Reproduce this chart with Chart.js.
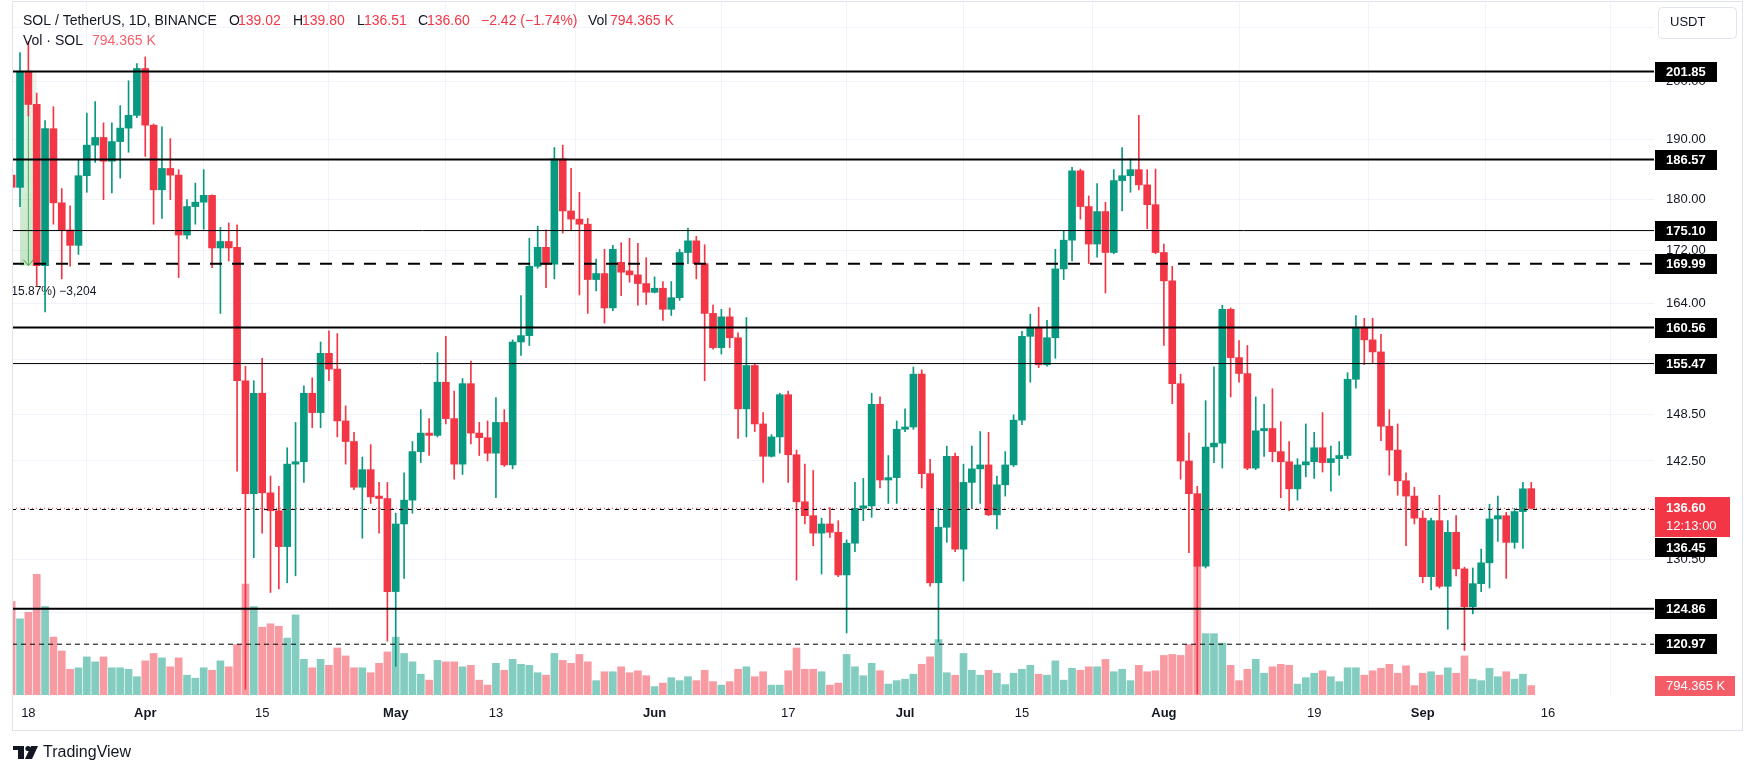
<!DOCTYPE html>
<html>
<head>
<meta charset="utf-8">
<script src="https://cdn.jsdelivr.net/npm/chart.js@4.4.1/dist/chart.umd.min.js"></script>
<style>
html, body { margin: 0; padding: 0; background: #fff; }
canvas { display: block; }
</style>
</head>
<body>
<canvas id="c" width="1754" height="774"></canvas>
<script>
// SOL/USDT daily, 2024-03-16 .. 2024-09-14 (index 0 = Mar 16)
const opens = [184.0, 182.0, 201.9, 196.0, 169.7, 191.8, 179.5, 175.2, 172.8, 183.9,
  189.0, 190.3, 186.3, 189.6, 191.9, 194.1, 202.4, 192.4, 181.6, 185.1,
  184.0, 174.4, 178.9, 179.6, 180.7, 172.4, 173.4, 172.5, 153.1, 138.4,
  151.4, 138.5, 136.3, 132.0, 142.1, 142.4, 151.4, 148.8, 156.9, 154.7,
  147.7, 145.0, 139.2, 141.4, 138.1, 137.8, 126.8, 134.7, 137.6, 143.7,
  146.1, 145.8, 152.9, 148.0, 142.1, 152.7, 146.1, 145.5, 143.5, 147.5,
  142.0, 158.5, 159.4, 169.6, 172.5, 169.9, 186.7, 178.2, 176.9, 176.1,
  167.6, 168.5, 163.4, 170.2, 168.9, 168.3, 167.0, 165.7, 166.3, 163.2,
  164.9, 171.7, 173.5, 170.0, 162.6, 157.7, 162.1, 159.1, 149.3, 155.2,
  147.3, 143.1, 145.6, 151.2, 143.3, 137.4, 135.7, 133.6, 134.7, 133.7,
  128.7, 132.4, 136.6, 136.9, 149.9, 140.1, 140.4, 146.6, 146.9, 154.0,
  140.9, 127.8, 134.3, 143.1, 131.7, 139.8, 141.5, 142.0, 135.8, 139.5,
  142.0, 147.8, 159.3, 160.5, 155.3, 159.1, 169.2, 173.6, 184.7, 178.9,
  173.0, 178.1, 171.7, 183.1, 183.9, 184.9, 182.4, 179.2, 171.7, 167.4,
  152.7, 142.5, 138.4, 129.7, 144.3, 144.8, 163.2, 156.3, 154.1, 141.6,
  146.4, 146.7, 143.7, 142.4, 139.0, 142.0, 142.4, 144.2, 142.3, 142.8,
  143.2, 153.3, 160.6, 158.8, 157.1, 147.0, 143.9, 140.0, 138.1, 135.4,
  128.5, 135.1, 127.4, 133.7, 129.4, 125.1, 127.7, 130.1, 135.3, 135.7,
  132.5, 136.2, 139.02];
const highs = [185.0, 205.3, 207.4, 198.0, 193.2, 195.6, 181.8, 179.0, 186.5, 194.5,
  196.5, 192.8, 192.8, 195.8, 200.2, 203.3, 204.5, 192.6, 192.1, 190.1,
  184.9, 180.0, 182.7, 184.9, 180.8, 175.6, 176.3, 176.0, 155.1, 153.1,
  156.2, 140.6, 139.3, 144.2, 147.5, 152.4, 153.5, 158.5, 160.1, 159.7,
  149.7, 146.2, 143.0, 144.6, 139.8, 139.8, 136.0, 141.0, 145.0, 149.2,
  148.0, 157.0, 159.3, 151.7, 153.4, 155.8, 147.5, 147.7, 150.8, 149.2,
  158.8, 165.2, 173.9, 175.8, 175.2, 188.6, 189.0, 185.1, 181.2, 177.0,
  170.7, 172.2, 172.8, 173.2, 173.9, 173.1, 170.9, 168.0, 167.3, 167.3,
  172.2, 175.5, 174.2, 172.9, 163.8, 163.2, 163.4, 159.8, 162.0, 155.4,
  148.8, 145.9, 151.4, 151.7, 143.9, 142.1, 141.3, 135.4, 136.7, 135.1,
  132.8, 139.8, 140.3, 151.4, 150.9, 143.2, 147.7, 149.3, 155.0, 154.6,
  142.7, 136.6, 144.4, 143.5, 142.1, 144.4, 146.3, 146.2, 140.6, 143.7,
  148.5, 160.0, 162.5, 163.5, 161.6, 172.2, 175.1, 185.3, 185.0, 180.6,
  182.6, 179.6, 184.9, 188.6, 186.7, 194.1, 184.9, 185.0, 173.0, 169.6,
  154.0, 146.1, 139.3, 150.4, 155.0, 163.8, 163.4, 158.7, 158.0, 150.9,
  149.9, 152.0, 147.6, 145.0, 142.8, 147.3, 146.2, 148.8, 144.4, 145.0,
  154.2, 162.3, 161.9, 161.9, 159.6, 149.2, 147.3, 141.0, 139.2, 136.3,
  135.4, 138.2, 135.1, 135.7, 129.6, 129.5, 131.7, 137.1, 138.1, 136.1,
  136.6, 139.8, 139.80];
const lows = [181.0, 178.9, 194.0, 166.6, 162.8, 176.1, 167.7, 169.6, 171.4, 181.2,
  186.1, 180.0, 181.1, 183.5, 187.8, 193.7, 187.1, 176.1, 177.0, 180.0,
  167.9, 173.8, 176.1, 175.3, 169.4, 162.6, 170.4, 141.2, 116.2, 130.7,
  133.6, 126.7, 127.1, 127.8, 128.6, 139.8, 146.8, 146.8, 153.1, 145.6,
  142.1, 138.9, 133.0, 137.2, 133.6, 121.3, 118.6, 128.3, 136.0, 142.3,
  143.2, 145.6, 147.3, 140.2, 140.8, 144.7, 143.2, 142.5, 137.9, 141.8,
  141.5, 156.6, 158.0, 169.3, 166.4, 167.7, 174.7, 175.2, 165.3, 162.6,
  165.9, 161.2, 163.0, 165.2, 167.2, 163.8, 163.9, 165.6, 161.6, 162.3,
  164.5, 170.0, 167.7, 153.1, 157.5, 156.8, 157.7, 145.4, 145.6, 146.3,
  139.8, 143.0, 143.5, 139.8, 128.1, 134.7, 132.1, 128.8, 133.1, 128.5,
  122.2, 131.4, 135.1, 135.5, 139.1, 137.2, 137.2, 146.3, 146.6, 139.1,
  127.4, 121.2, 132.5, 131.4, 128.0, 136.6, 137.2, 135.7, 134.1, 138.1,
  141.8, 147.2, 152.9, 154.9, 155.1, 156.2, 167.6, 170.4, 176.9, 170.0,
  171.0, 165.6, 171.5, 178.2, 181.2, 181.6, 175.4, 171.5, 158.0, 150.0,
  140.2, 131.3, 115.7, 129.5, 142.3, 141.6, 150.9, 152.9, 141.4, 141.4,
  143.1, 142.4, 137.9, 136.3, 137.6, 140.5, 140.3, 141.1, 138.7, 140.7,
  142.8, 152.1, 155.3, 155.5, 145.1, 140.7, 138.2, 132.1, 134.7, 127.8,
  127.0, 127.2, 122.6, 128.6, 120.3, 124.3, 126.8, 127.2, 132.6, 128.3,
  131.8, 131.8, 136.51];
const closes = [182.0, 201.9, 196.0, 169.7, 191.8, 179.5, 175.2, 172.8, 183.9, 189.0,
  190.3, 186.3, 189.6, 191.9, 194.1, 202.4, 192.4, 181.6, 185.1, 184.0,
  174.4, 178.9, 179.6, 180.7, 172.4, 173.4, 172.4, 153.1, 138.4, 151.4,
  138.5, 136.3, 132.0, 142.1, 142.4, 151.4, 148.8, 156.9, 154.7, 147.7,
  145.0, 139.2, 141.4, 138.0, 137.8, 126.8, 134.7, 137.6, 143.7, 146.1,
  145.8, 152.9, 148.0, 142.1, 152.7, 146.1, 145.5, 143.5, 147.5, 142.0,
  158.5, 159.4, 169.6, 172.5, 169.9, 186.7, 178.2, 176.9, 176.1, 167.6,
  168.5, 163.4, 172.2, 168.7, 168.3, 167.0, 165.7, 166.3, 163.2, 164.9,
  171.7, 173.5, 170.0, 162.6, 157.7, 162.1, 159.1, 149.3, 155.2, 147.3,
  143.1, 145.6, 151.2, 143.3, 137.4, 135.7, 133.6, 134.7, 133.7, 128.7,
  132.4, 136.6, 136.9, 149.9, 140.1, 140.4, 146.6, 146.9, 154.0, 140.9,
  127.8, 134.3, 143.1, 131.7, 139.8, 141.5, 142.0, 135.8, 139.5, 142.0,
  147.8, 159.3, 160.5, 155.3, 159.1, 169.2, 173.6, 184.7, 178.9, 173.0,
  178.1, 171.7, 183.1, 183.9, 184.9, 182.4, 179.2, 171.7, 167.4, 152.7,
  142.5, 138.4, 129.7, 144.3, 144.8, 163.2, 156.3, 154.1, 141.6, 146.4,
  146.7, 143.7, 142.4, 139.0, 142.0, 142.4, 144.2, 142.3, 142.8, 143.2,
  153.3, 160.6, 158.8, 157.1, 147.0, 143.9, 140.0, 138.1, 135.4, 128.5,
  135.1, 127.4, 133.7, 129.4, 125.1, 127.7, 130.1, 135.3, 135.7, 132.5,
  136.2, 139.0, 136.60];
// volume in thousands of SOL
const volumes = [7900, 6437, 6981, 10199, 7482, 4891, 3720, 2174, 2299, 3219,
  2801, 3219, 2299, 2299, 2174, 1547, 2884, 3511, 3135, 2383,
  3135, 1672, 1421, 2299, 2090, 2884, 2383, 4264, 9363, 7482,
  5727, 6019, 5810, 4807, 6772, 3010, 2299, 3010, 2508, 3971,
  3302, 2299, 2299, 1881, 2675, 3637, 4891, 3511, 2801, 1756,
  1254, 2926, 2801, 2801, 2383, 2508, 1254, 836, 2675, 2090,
  3010, 2592, 2508, 1881, 1672, 3511, 2926, 2675, 3428, 2801,
  1212, 1965, 1965, 2383, 1881, 2048, 1630, 711, 1003, 1463,
  1212, 1547, 1212, 2090, 1129, 836, 1129, 2174, 2383, 1547,
  1965, 836, 836, 2048, 3971, 2174, 2174, 1965, 836, 1003,
  3428, 2383, 1630, 2675, 2048, 920, 1212, 1338, 1756, 2592,
  3219, 4682, 1881, 1672, 3511, 2090, 1672, 2090, 1839, 878,
  1839, 2174, 2508, 1756, 1672, 2884, 1254, 2257, 2090, 2383,
  2383, 3010, 1965, 2174, 1212, 2508, 1965, 2048, 3344, 3428,
  3344, 4264, 10868, 5183, 5183, 4389, 2508, 1212, 2174, 3010,
  1839, 2383, 2592, 2508, 920, 1463, 1839, 2048, 1547, 1129,
  2299, 2299, 1672, 2048, 2257, 2592, 1839, 2466, 794, 1839,
  1965, 1672, 2299, 1839, 3302, 1338, 1212, 2257, 1547, 1965,
  1338, 1756, 794.365];

const dateTicks = [2, 16, 30, 46, 58, 77, 93, 107, 121, 138, 156, 169, 184];
const dateLabels = ['18', 'Apr', '15', 'May', '13', 'Jun', '17', 'Jul', '15', 'Aug', '19', 'Sep', '16'];
const priceTicks = [210, 200, 190, 180, 172, 164, 156, 148.5, 142.5, 136.5, 130.5, 124.5];

const levels = [201.85, 186.57, 175.10, 169.99, 160.56, 155.47, 124.86, 120.97, 136.45];
const levelWidths = [2, 2, 1, 2, 2, 1, 2, 1, 1];
const levelDashes = [[], [], [], [12, 10], [], [], [], [5, 4], [4, 5]];
const lastPrice = 136.60;
const countdown = '12:13:00';
const lastVolumeLabel = '794.365 K';
const measureFrom = [1, 201.9];
const measureTo = [3, 169.7];

const FONT = '"Liberation Sans", Arial, sans-serif';
const UP = '#089981';
const DOWN = '#f23645';
const X_MIN = 0.04, X_MAX = 196.7;

const idx = opens.map((_, i) => i);
const candleColors = idx.map(i => closes[i] >= opens[i] ? UP : DOWN);
const volColors = idx.map(i => closes[i] >= opens[i] ? 'rgba(8,153,129,0.5)' : 'rgba(242,54,69,0.5)');

const levelSets = levels.map((p, k) => ({
  type: 'line',
  data: [{ x: X_MIN, y: p }, { x: X_MAX, y: p }],
  yAxisID: 'y',
  borderColor: '#000',
  borderWidth: levelWidths[k],
  borderDash: levelDashes[k],
  pointRadius: 0,
  order: 2
}));
levelSets.push({
  type: 'line',
  data: [{ x: X_MIN, y: lastPrice }, { x: X_MAX, y: lastPrice }],
  yAxisID: 'y',
  borderColor: DOWN,
  borderWidth: 1,
  borderDash: [1, 3],
  pointRadius: 0,
  order: 1
});

// chart.js adds tick padding above/below vertical axes; drop it so the pane fills the frame
function noPad(s) {
  s.paddingTop = 0;
  s.paddingBottom = 0;
  s.paddingLeft = 0;
  s.paddingRight = 0;
}

const overlay = {
  id: 'overlay',
  beforeDatasetsDraw(chart) {
    const { ctx, chartArea: a, scales: { x, y } } = chart;
    const x1 = x.getPixelForValue(measureFrom[0]);
    const x2 = x.getPixelForValue(measureTo[0]);
    const y1 = y.getPixelForValue(measureFrom[1]);
    const y2 = y.getPixelForValue(measureTo[1]);
    ctx.save();
    ctx.beginPath();
    ctx.rect(a.left, a.top, a.right - a.left, a.bottom - a.top);
    ctx.clip();
    const g = ctx.createLinearGradient(0, y1, 0, y2);
    g.addColorStop(0, 'rgba(76,175,80,0.10)');
    g.addColorStop(1, 'rgba(76,175,80,0.32)');
    ctx.fillStyle = g;
    ctx.fillRect(x1, y1, x2 - x1, y2 - y1);
    const xm = (x1 + x2) / 2;
    ctx.strokeStyle = '#4caf50';
    ctx.lineWidth = 1;
    ctx.beginPath();
    ctx.moveTo(xm, y1);
    ctx.lineTo(xm, y2);
    ctx.moveTo(xm - 5, y2 - 6);
    ctx.lineTo(xm, y2);
    ctx.lineTo(xm + 5, y2 - 6);
    ctx.stroke();
    ctx.fillStyle = '#131722';
    ctx.font = '12px ' + FONT;
    ctx.textAlign = 'right';
    ctx.textBaseline = 'middle';
    ctx.fillText('\u221232.04 (\u221215.87%) \u22123,204', xm + 68, y2 + 26);
    ctx.restore();
  },
  afterDraw(chart) {
    const { ctx, scales: { y, yv } } = chart;
    ctx.save();
    // frame
    ctx.strokeStyle = '#e0e3eb';
    ctx.lineWidth = 1;
    ctx.strokeRect(12.5, 1.5, 1730, 729);

    // header
    ctx.textBaseline = 'middle';
    ctx.textAlign = 'left';
    ctx.font = '14px ' + FONT;
    const dark = '#131722';
    const parts = [
      ['SOL / TetherUS, 1D, BINANCE', 23, dark],
      ['O', 229, dark], ['139.02', 238, DOWN],
      ['H', 293, dark], ['139.80', 302, DOWN],
      ['L', 357, dark], ['136.51', 364, DOWN],
      ['C', 418, dark], ['136.60', 427, DOWN],
      ['\u22122.42 (\u22121.74%)', 481, DOWN],
      ['Vol', 588, dark], ['794.365 K', 610, DOWN]
    ];
    parts.forEach(([t, px, c]) => { ctx.fillStyle = c; ctx.fillText(t, px, 21.5); });
    ctx.fillStyle = dark;
    ctx.fillText('Vol \u00b7 SOL', 23, 41.5);
    ctx.fillStyle = 'rgba(242,54,69,0.8)';
    ctx.fillText('794.365 K', 92, 41.5);

    // price labels
    ctx.font = 'bold 13px ' + FONT;
    levels.forEach(p => {
      if (p === 136.45) return;
      const yy = Math.round(y.getPixelForValue(p));
      ctx.fillStyle = '#000';
      ctx.fillRect(1655, yy - 10, 62, 20);
      ctx.fillStyle = '#fff';
      ctx.fillText(p.toFixed(2), 1666, yy + 0.5);
    });
    const ly = Math.round(y.getPixelForValue(lastPrice));
    ctx.fillStyle = DOWN;
    ctx.fillRect(1655, ly - 11, 75, 40);
    ctx.fillStyle = '#fff';
    ctx.fillText(lastPrice.toFixed(2), 1666, ly);
    ctx.font = '13px ' + FONT;
    ctx.fillText(countdown, 1666, ly + 18);
    ctx.font = 'bold 13px ' + FONT;
    const by = ly + 30;
    ctx.fillStyle = '#000';
    ctx.fillRect(1655, by, 62, 19);
    ctx.fillStyle = '#fff';
    ctx.fillText('136.45', 1666, by + 10);

    const vy = Math.round(yv.getPixelForValue(volumes[volumes.length - 1]));
    ctx.fillStyle = '#f45c68';
    ctx.fillRect(1655, vy - 10, 80, 20);
    ctx.fillStyle = '#fff';
    ctx.font = '13px ' + FONT;
    ctx.fillText(lastVolumeLabel, 1666, vy + 0.5);

    // currency box
    ctx.fillStyle = '#fff';
    ctx.strokeStyle = '#e0e3eb';
    ctx.beginPath();
    ctx.roundRect(1658.5, 7.5, 78, 31, 4);
    ctx.fill();
    ctx.stroke();
    ctx.fillStyle = dark;
    ctx.font = '13px ' + FONT;
    ctx.fillText('USDT', 1670, 22.5);

    // logo
    ctx.fillStyle = '#131722';
    ctx.fillRect(13, 746, 11, 4);
    ctx.fillRect(18, 746, 6, 13);
    ctx.beginPath();
    ctx.arc(28, 748.5, 2.6, 0, Math.PI * 2);
    ctx.fill();
    ctx.beginPath();
    ctx.moveTo(31, 746); ctx.lineTo(38, 746); ctx.lineTo(32, 759); ctx.lineTo(25, 759);
    ctx.closePath();
    ctx.fill();
    ctx.font = '16px ' + FONT;
    ctx.fillText('TradingView', 43, 753);
    ctx.restore();
  }
};

new Chart(document.getElementById('c'), {
  type: 'bar',
  data: {
    datasets: [
      { type: 'bar', data: idx.map(i => ({ x: i, y: volumes[i] })), yAxisID: 'yv',
        backgroundColor: volColors, barThickness: 7, grouped: false, order: 10 },
      { type: 'bar', data: idx.map(i => ({ x: i, y: [lows[i], highs[i]] })), yAxisID: 'y',
        backgroundColor: candleColors, barThickness: 1, grouped: false, order: 6 },
      { type: 'bar', data: idx.map(i => ({ x: i, y: [opens[i], closes[i]] })), yAxisID: 'y',
        backgroundColor: candleColors, barThickness: 7, minBarLength: 1, grouped: false, order: 5 },
      ...levelSets
    ]
  },
  options: {
    responsive: false,
    animation: false,
    events: [],
    layout: { padding: { left: 12, top: 2, right: 0, bottom: 0 } },
    plugins: { legend: { display: false }, tooltip: { enabled: false } },
    scales: {
      x: {
        type: 'linear', min: X_MIN, max: X_MAX, offset: false,
        afterBuildTicks: s => { s.ticks = dateTicks.map(v => ({ value: v })); },
        afterFit: s => { s.height = 79; noPad(s); },
        ticks: {
          autoSkip: false, maxRotation: 0, padding: 11, color: '#131722',
          font: ctx => ({ family: FONT, size: 13, weight: /^[A-Z]/.test(dateLabels[ctx.index] || '') ? 'bold' : 'normal' }),
          callback: (v, i) => dateLabels[i]
        },
        grid: { color: '#f0f3fa', drawTicks: false },
        border: { display: false }
      },
      y: {
        type: 'logarithmic', position: 'right', min: 115.6, max: 214.8,
        afterBuildTicks: s => { s.ticks = priceTicks.map(v => ({ value: v })); },
        afterFit: s => { s.width = 100; noPad(s); },
        ticks: {
          autoSkip: false, padding: 12, color: '#131722',
          font: { family: FONT, size: 13 },
          callback: v => Number(v).toFixed(2)
        },
        grid: { color: '#f0f3fa', drawTicks: false },
        border: { display: false }
      },
      yv: { type: 'linear', display: false, min: 0, max: 58560 }
    }
  },
  plugins: [overlay]
});
</script>
</body>
</html>
